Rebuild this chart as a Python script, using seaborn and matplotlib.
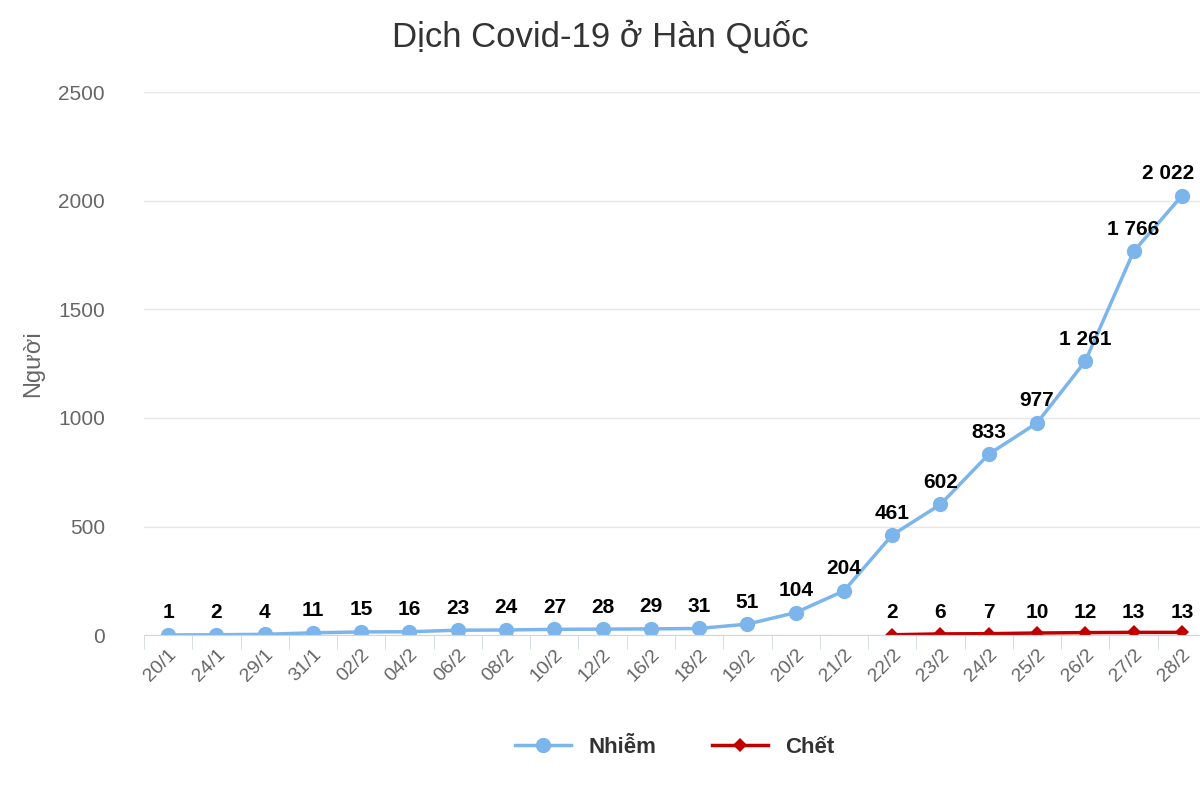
import matplotlib
matplotlib.use("Agg")
import matplotlib.pyplot as plt
import seaborn as sns
import pandas as pd
import numpy as np

dates = ["20/1","24/1","29/1","31/1","02/2","04/2","06/2","08/2","10/2","12/2","16/2","18/2",
         "19/2","20/2","21/2","22/2","23/2","24/2","25/2","26/2","27/2","28/2"]
infected = [1,2,4,11,15,16,23,24,27,28,29,31,51,104,204,461,602,833,977,1261,1766,2022]
death_dates = ["22/2","23/2","24/2","25/2","26/2","27/2","28/2"]
deaths = [2,6,7,10,12,13,13]
inf_labels = ["1","2","4","11","15","16","23","24","27","28","29","31","51","104","204",
              "461","602","833","977","1 261","1 766","2 022"]

plt.rcParams["font.family"] = "Liberation Sans"
fig = plt.figure(figsize=(12, 8), dpi=100)
ax = fig.add_axes([0.12, 0.206, 0.885, 0.679])

x_all = np.arange(len(dates))
df_inf = pd.DataFrame({"x": x_all, "y": infected})
dx = [dates.index(d) for d in death_dates]
df_d = pd.DataFrame({"x": dx, "y": deaths})

sns.lineplot(data=df_inf, x="x", y="y", ax=ax, color="#7cb5ec", lw=2.5, marker="o",
             markersize=11, markeredgewidth=0, label="Nhiễm")
sns.lineplot(data=df_d, x="x", y="y", ax=ax, color="#c00000", lw=2.5, marker="D",
             markersize=7, markeredgewidth=0, label="Chết")

n = len(infected)
for i, (xi, yi, lab) in enumerate(zip(x_all, infected, inf_labels)):
    off = -10 if i == n - 1 else 0
    ax.annotate(lab, (xi, yi), xytext=(off, 9), textcoords="offset points", ha="center",
                va="bottom", fontsize=15, fontweight="bold", color="black")
for xi, yi in zip(dx, deaths):
    ax.annotate(str(yi), (xi, 60), xytext=(0, 0), textcoords="offset points", ha="center",
                va="bottom", fontsize=15, fontweight="bold", color="black")

ax.set_xlim(-0.5, len(dates) - 0.5)
ax.set_ylim(0, 2500)
ax.set_yticks([0, 500, 1000, 1500, 2000, 2500])
ax.set_xticks(x_all)
ax.set_xticklabels(dates, rotation=45, ha="right", rotation_mode="anchor")
ax.tick_params(axis="x", length=0, labelsize=14, labelcolor="#666666", pad=8)
ax.tick_params(axis="y", length=0, labelsize=15, labelcolor="#666666", pad=28)
ax.set_xticks(np.arange(-0.5, len(dates)), minor=True)
ax.tick_params(axis="x", which="minor", length=10, color="#ccd6eb")
ax.grid(axis="y", color="#e6e6e6", lw=1)
ax.grid(axis="x", visible=False)
for s in ["top", "right", "left"]:
    ax.spines[s].set_visible(False)
ax.spines["bottom"].set_color("#ccd6eb")
ax.set_xlabel("")
ax.set_ylabel("Người", fontsize=17, color="#666666", labelpad=10)
fig.suptitle("Dịch Covid-19 ở Hàn Quốc", fontsize=25, color="#333333", y=0.975)

leg = ax.legend(loc="upper center", bbox_to_anchor=(0.5, -0.15), ncol=2, frameon=False,
                prop={"size": 16, "weight": "bold"}, handlelength=2.5, columnspacing=2.5)
for t in leg.get_texts():
    t.set_color("#333333")
fig.savefig("out.png", dpi=100)
